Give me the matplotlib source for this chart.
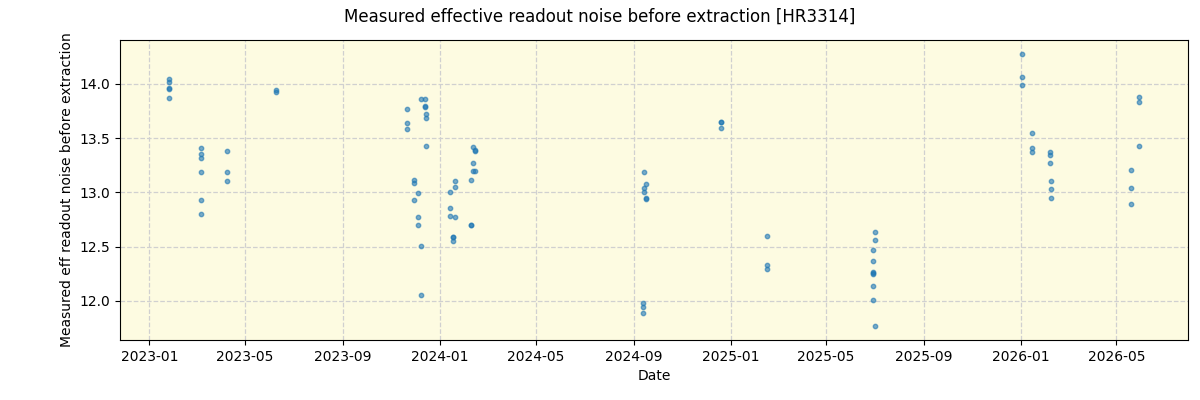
import numpy as np
import pandas as pd
import matplotlib
matplotlib.use('Agg')
import matplotlib.pyplot as plt
import matplotlib.dates as mdates

# dates and noise values
dates = [
    '2023-01-26', '2023-01-26', '2023-01-26', '2023-01-26', '2023-01-26',
    '2023-03-07', '2023-03-07', '2023-03-07', '2023-03-07', '2023-03-07', '2023-03-07',
    '2023-04-08', '2023-04-08', '2023-04-08',
    '2023-06-09', '2023-06-09',
    '2023-11-21', '2023-11-21', '2023-11-21',
    '2023-11-30', '2023-11-30', '2023-11-30',
    '2023-12-05', '2023-12-05', '2023-12-05',
    '2023-12-08', '2023-12-08', '2023-12-08',
    '2023-12-13', '2023-12-13', '2023-12-13',
    '2023-12-15', '2023-12-15', '2023-12-15',
    '2024-01-14', '2024-01-14', '2024-01-14',
    '2024-01-18', '2024-01-18', '2024-01-18',
    '2024-01-20', '2024-01-20', '2024-01-20',
    '2024-02-09', '2024-02-09', '2024-02-09',
    '2024-02-12', '2024-02-12', '2024-02-12',
    '2024-02-14', '2024-02-14', '2024-02-14',
    '2024-09-13', '2024-09-13', '2024-09-13',
    '2024-09-14', '2024-09-14', '2024-09-14',
    '2024-09-16', '2024-09-16', '2024-09-16',
    '2024-12-20', '2024-12-20', '2024-12-20',
    '2025-02-15', '2025-02-15', '2025-02-15',
    '2025-06-29', '2025-06-29', '2025-06-29', '2025-06-29', '2025-06-29', '2025-06-29', '2025-06-29',
    '2025-07-01', '2025-07-01', '2025-07-01',
    '2026-01-02', '2026-01-02', '2026-01-02',
    '2026-01-15', '2026-01-15', '2026-01-15',
    '2026-02-07', '2026-02-07', '2026-02-07',
    '2026-02-08', '2026-02-08', '2026-02-08',
    '2026-05-19', '2026-05-19', '2026-05-19',
    '2026-05-30', '2026-05-30', '2026-05-30',
]
noise = [
    14.05, 14.016, 13.96, 13.95, 13.868,
    13.407, 13.352, 13.315, 13.186, 12.928, 12.799,
    13.38, 13.186, 13.103,
    13.94, 13.93,
    13.767, 13.638, 13.582,
    13.115, 13.085, 12.928,
    12.993, 12.771, 12.698,
    13.859, 12.504, 12.052,
    13.859, 13.80, 13.79,
    13.72, 13.684, 13.426,
    13.002, 12.854, 12.781,
    12.59, 12.585, 12.55,
    13.103, 13.048, 12.771,
    13.112, 12.70, 12.696,
    13.417, 13.269, 13.195,
    13.389, 13.38, 13.195,
    11.98, 11.942, 11.887,
    13.186, 13.039, 13.002,
    13.076, 12.945, 12.94,
    13.65, 13.645, 13.592,
    12.596, 12.329, 12.292,
    12.467, 12.366, 12.268, 12.26, 12.246, 12.135, 12.006,
    12.633, 12.56, 11.767,
    14.274, 14.062, 13.988,
    13.546, 13.407, 13.37,
    13.373, 13.343, 13.269,
    13.103, 13.03, 12.947,
    13.205, 13.039, 12.891,
    13.877, 13.831, 13.426,
]

TITLE = 'Measured effective readout noise before extraction [HR3314]'


def main():
    x = pd.to_datetime(dates)
    fig = plt.figure(figsize=(12, 4), dpi=100)
    ax = fig.add_axes([0.1, 0.15, 0.89, 0.75])
    ax.set_facecolor('#fdfbe1')
    ax.scatter(x, noise, s=10, color='tab:blue', alpha=0.6, zorder=3)
    ax.grid(True, linestyle='--', color='#d0d0d0', linewidth=0.9)
    ax.set_axisbelow(True)

    ax.set_xlim(pd.Timestamp('2022-11-25'), pd.Timestamp('2026-07-30'))
    ax.set_ylim(11.64, 14.405)
    ax.xaxis.set_major_locator(mdates.MonthLocator(bymonth=[1, 5, 9]))
    ax.xaxis.set_major_formatter(mdates.DateFormatter('%Y-%m'))
    ax.set_yticks([12.0, 12.5, 13.0, 13.5, 14.0])

    ax.set_xlabel('Date')
    ax.set_ylabel('Measured eff readout noise before extraction')
    fig.suptitle(TITLE, fontsize=12, y=0.98)
    fig.savefig('out.png', dpi=100)


if __name__ == '__main__':
    main()
